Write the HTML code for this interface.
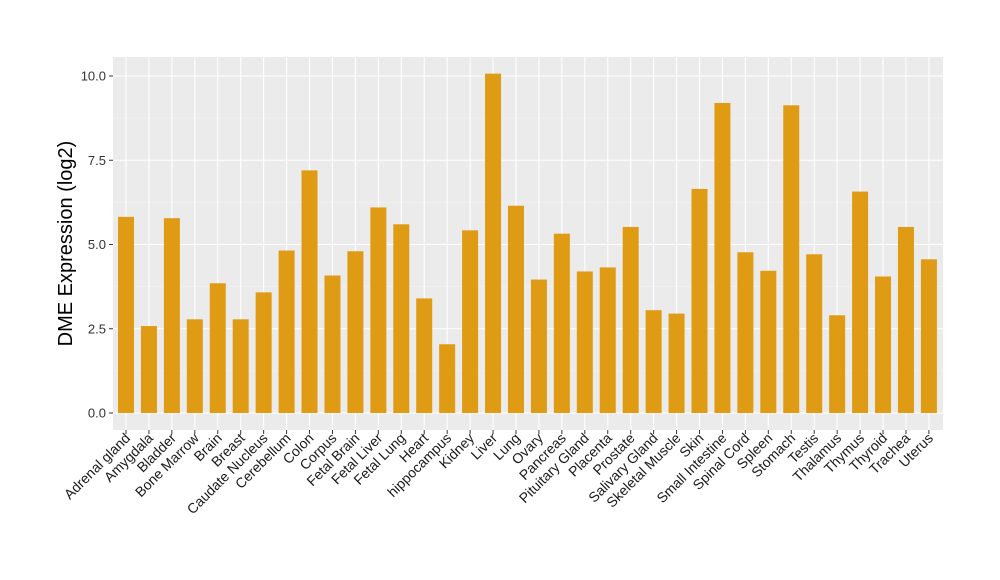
<!DOCTYPE html>
<html><head><meta charset="utf-8"><style>body{margin:0;background:#fff}svg{display:block}text{font-family:"Liberation Sans",Arial,sans-serif}</style></head>
<body>
<svg id="s" width="1000" height="580" xmlns="http://www.w3.org/2000/svg"></svg>
<script>
const names=["Adrenal gland","Amygdala","Bladder","Bone Marrow","Brain","Breast","Caudate Nucleus","Cerebellum","Colon","Corpus","Fetal Brain","Fetal Liver","Fetal Lung","Heart","hippocampus","Kidney","Liver","Lung","Ovary","Pancreas","Pituitary Gland","Placenta","Prostate","Salivary Gland","Skeletal Muscle","Skin","Small Intestine","Spinal Cord","Spleen","Stomach","Testis","Thalamus","Thymus","Thyroid","Trachea","Uterus"];
const vals=[5.82,2.58,5.78,2.78,3.85,2.78,3.58,4.82,7.2,4.08,4.8,6.1,5.6,3.4,2.04,5.42,10.07,6.15,3.96,5.32,4.2,4.32,5.52,3.05,2.95,6.65,9.2,4.77,4.22,9.13,4.71,2.9,6.57,4.05,5.52,4.56];
const L=113,R=943,T=57,B=430,y0=413,k=33.7,x0=126,dx=22.94,bw=16;
let h=`<rect x="${L}" y="${T}" width="${R-L}" height="${B-T}" fill="#EBEBEB"/>`;
for(let v=-1.25;v<=11.25;v+=2.5){const y=y0-v*k;if(y>T&&y<B)h+=`<line x1="${L}" x2="${R}" y1="${y}" y2="${y}" stroke="#F5F5F5" stroke-width="0.6"/>`;}
for(let v=0;v<=10;v+=2.5){const y=y0-v*k;h+=`<line x1="${L}" x2="${R}" y1="${y}" y2="${y}" stroke="#fff" stroke-width="1.1"/><line x1="${L-4}" x2="${L}" y1="${y}" y2="${y}" stroke="#333"/><text x="${L-7}" y="${y+4.5}" font-size="13" text-anchor="end" fill="#333">${v.toFixed(1)}</text>`;}
names.forEach((n,i)=>{const x=x0+i*dx;h+=`<line x1="${x}" x2="${x}" y1="${T}" y2="${B}" stroke="#fff" stroke-width="1.1"/>`;});
names.forEach((n,i)=>{const x=x0+i*dx,v=vals[i];h+=`<rect x="${x-bw/2}" y="${y0-v*k}" width="${bw}" height="${v*k}" fill="#DE9B13"/><line x1="${x}" x2="${x}" y1="${B}" y2="${B+4}" stroke="#333"/><text transform="translate(${x+5},${B+9}) rotate(-45)" font-size="14" text-anchor="end" fill="#1a1a1a">${n}</text>`;});
h+=`<text transform="translate(72,${(T+B)/2}) rotate(-90)" font-size="20" text-anchor="middle" fill="#000">DME Expression (log2)</text>`;
document.getElementById('s').innerHTML=h;
</script>
</body></html>
